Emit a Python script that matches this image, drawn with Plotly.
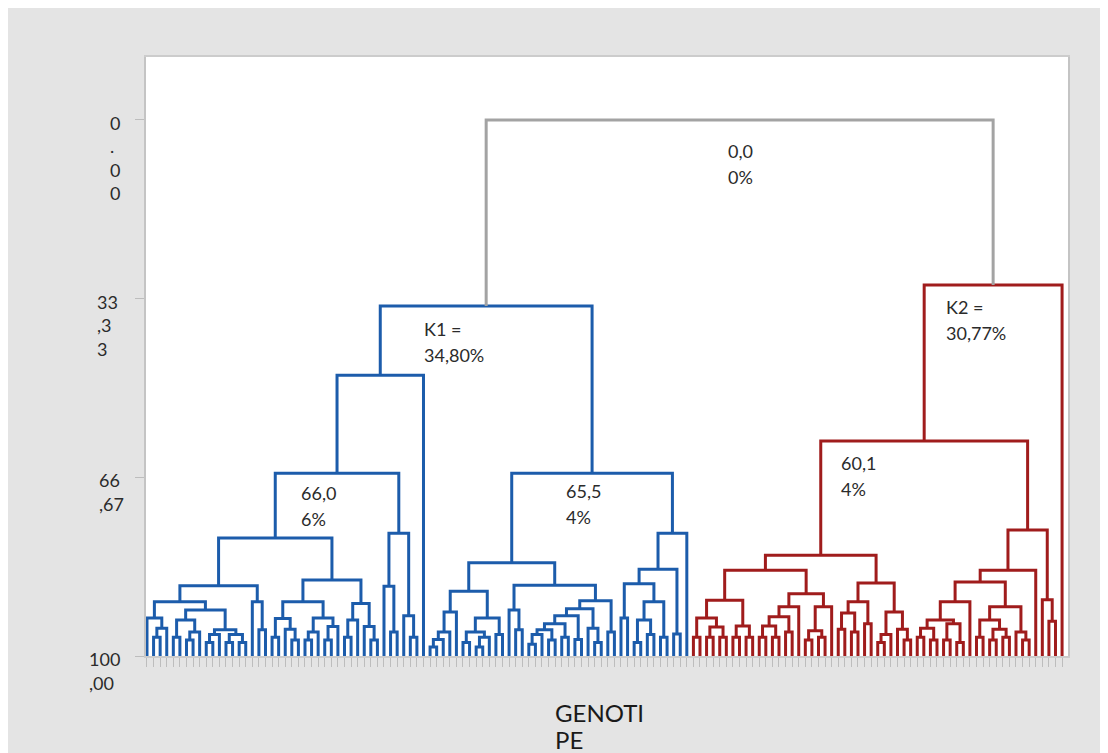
import plotly.graph_objects as go

o = None  # one genotype (leaf)

# ---- dendrogram data: nested merges [height, left, right]; heights on the 0..100 scale ----
BLUE_LEFT = [47.6,
  [65.9,
    [78.0,
      [86.9,
        [89.9,
          [92.9, o, [94.8, [96.5, o, o], o]],
          [91.4,
            [93.3, [96.5, o, o], [95.5, [97.0, o, o], o]],
            [95.1, [96.0, [97.5, o, o], o], [96.0, [97.5, o, o], [97.5, o, o]]]]],
        [89.9, o, [95.1, o, o]]],
      [85.8,
        [89.9,
          [93.0, [96.5, o, o], [95.0, o, [97.0, o, o]]],
          [92.9, [95.5, [97.0, o, o], o], [94.5, [97.0, o, o], o]]],
        [90.2, [93.3, [96.5, o, o], o], [94.5, o, [97.0, o, o]]]]],
    [77.1, [87.0, o, [95.5, o, o]], [92.5, o, [96.5, o, o]]]],
  o]

BLUE_RIGHT = [65.9,
  [82.6,
    [87.9,
      [91.8, [95.5, [96.9, [98.3, o, o], o], o], o],
      [92.9, [95.5, [97.5, o, o], [96.5, [98.3, o, o], o]], [96.0, o, o]]],
    [86.8,
      [91.4, o, [95.1, o, o]],
      [89.7,
        [91.2,
          [92.5,
            [94.0,
              [95.1, [96.0, [97.8, o, o], o], [97.0, o, o]],
              [96.5, o, o]],
            [96.9, o, o]],
          [94.8, o, [97.5, o, o]]],
        [95.5, o, o]]]],
  [77.1,
    [83.8,
      [86.5, [92.9, o, o], [89.9, [93.3, [97.5, o, o], [96.0, o, o]], [96.5, o, o]]],
      [95.9, o, o]],
    o]]

RED = [30.8,
  [59.9,
    [81.2,
      [84.0,
        [89.6,
          [92.9, [96.5, o, o], [94.6, [96.5, o, o], [96.5, o, o]]],
          [94.4, [96.5, o, o], [96.5, o, o]]],
        [88.4,
          [90.8, [92.7, [94.4, [96.5, o, o], [96.5, o, o]], [95.5, o, o]], o],
          [90.8, [95.3, [97.0, o, o], [96.5, o, o]], o]]],
      [86.4,
        [89.9, [92.0, [95.0, o, o], [95.5, o, o]], [94.0, o, o]],
        [91.8, [96.0, [97.5, o, o], o], [95.0, o, [97.0, o, o]]]]],
    [76.5,
      [84.0,
        [86.2,
          [89.9, [93.3, [94.8, [96.5, o, o], [97.0, o, o]], [94.0, [97.0, o, o], [97.5, o, o]]], o],
          [90.8, [93.3, [96.5, o, o], [95.0, [97.0, o, o], [96.5, o, o]]], [95.5, o, [97.0, o, o]]]],
        o],
      [89.5, o, [93.5, o, o]]]],
  o]

K1_HEIGHT = 34.7
ROOT_HEIGHT = 0.0
LEAF_LEVEL = 100.0

Y_TICKS = [0.0, 33.33, 66.67, 100.0]
Y_TICK_LINES = [["0", ".", "0", "0"], ["33", ",3", "3"], ["66", ",67"], ["100", ",00"]]
NODE_LABELS = [["0,0", "0%"], ["K1 =", "34,80%"], ["K2 =", "30,77%"],
               ["66,0", "6%"], ["65,5", "4%"], ["60,1", "4%"]]
X_TITLE = ["GENOTI", "PE"]

# ---- styles ----
W, H = 1108, 753
OFF = 8                      # page body margin
PL, PT, PR, PB = 146, 57, 1068, 656   # plot area on the page
ML, MT = PL - OFF, PT - OFF
PW, PH = PR - PL, PB - PT
MR, MB = W - ML - PW, H - MT - PH
Y_TOP = -11.75
COLORS = {"root": "#a3a3a3", "k1": "#1c5cab", "k2": "#a01c1c"}
FONT = "Lato, 'Open Sans', sans-serif"
TXT = "#2b2b2b"

# ---- compute dendrogram geometry ----
ROOT = [ROOT_HEIGHT, [K1_HEIGHT, BLUE_LEFT, BLUE_RIGHT], RED]
paths = {k: ([], []) for k in COLORS}
counter = [0]


def walk(node, color, child_colors=None):
    if node is None:
        x = counter[0]
        counter[0] += 1
        return x, LEAF_LEVEL
    h, a, b = node
    ca, cb = child_colors if child_colors else (color, color)
    xa, ha = walk(a, ca)
    xb, hb = walk(b, cb)
    xs, ys = paths[color]
    xs += [xa, xa, xb, xb, None]
    ys += [ha, h, h, hb, None]
    return (xa + xb) / 2.0, h


walk(ROOT, "root", ("k1", "k2"))
N = counter[0]

fig = go.Figure()
for key in ["k1", "k2", "root"]:
    xs, ys = paths[key]
    fig.add_trace(go.Scatter(x=xs, y=ys, mode="lines", hoverinfo="skip",
                             line=dict(color=COLORS[key], width=3), showlegend=False))

PAD_L, PAD_R = 0.15, 0.9


def px_x(p):
    return (p - PL) / PW


def px_y(p):
    return (PB - p) / PH


ann = []
tick_left = [108, 95, 97, 87]
tick_py = [PT + (t - Y_TOP) / (LEAF_LEVEL - Y_TOP) * PH for t in Y_TICKS]
for lines, lx, ty in zip(Y_TICK_LINES, tick_left, tick_py):
    for j, s in enumerate(lines):
        ann.append(dict(text=s, x=px_x(lx), y=px_y(ty + 3 + 23.5 * j), xref="paper", yref="paper",
                        xanchor="left", yanchor="middle", showarrow=False,
                        font=dict(family=FONT, size=18, color=TXT)))

node_pos = [(726, 151), (422, 329), (944, 307), (299, 493), (564, 491), (839, 463)]
for lines, (lx, ly) in zip(NODE_LABELS, node_pos):
    for j, s in enumerate(lines):
        ann.append(dict(text=s, x=px_x(lx), y=px_y(ly + 26 * j), xref="paper", yref="paper",
                        xanchor="left", yanchor="middle", showarrow=False,
                        font=dict(family=FONT, size=18, color=TXT)))

for j, s in enumerate(X_TITLE):
    ann.append(dict(text=s, x=px_x(553), y=px_y(712 + 28 * j), xref="paper", yref="paper",
                    xanchor="left", yanchor="middle", showarrow=False,
                    font=dict(family=FONT, size=24, color="#1a1a1a")))

fig.update_layout(
    width=W, height=H,
    margin=dict(l=ML, r=MR, t=MT, b=MB, pad=0),
    paper_bgcolor="#e4e4e4", plot_bgcolor="white",
    annotations=ann,
    xaxis=dict(range=[-PAD_L, N - 1 + PAD_R], tickvals=list(range(N)), ticks="outside",
               ticklen=9, tickwidth=1, tickcolor="#bdbdbd", showticklabels=False,
               showgrid=False, zeroline=False, showline=True, linecolor="#cccccc",
               linewidth=2, mirror=True, fixedrange=True),
    yaxis=dict(range=[LEAF_LEVEL, Y_TOP], tickvals=Y_TICKS, ticks="outside", ticklen=9,
               tickwidth=1, tickcolor="#bdbdbd", showticklabels=False, showgrid=False,
               zeroline=False, showline=True, linecolor="#c4c4c4", linewidth=2,
               mirror=True, fixedrange=True),
)

fig.write_html("out.html")
